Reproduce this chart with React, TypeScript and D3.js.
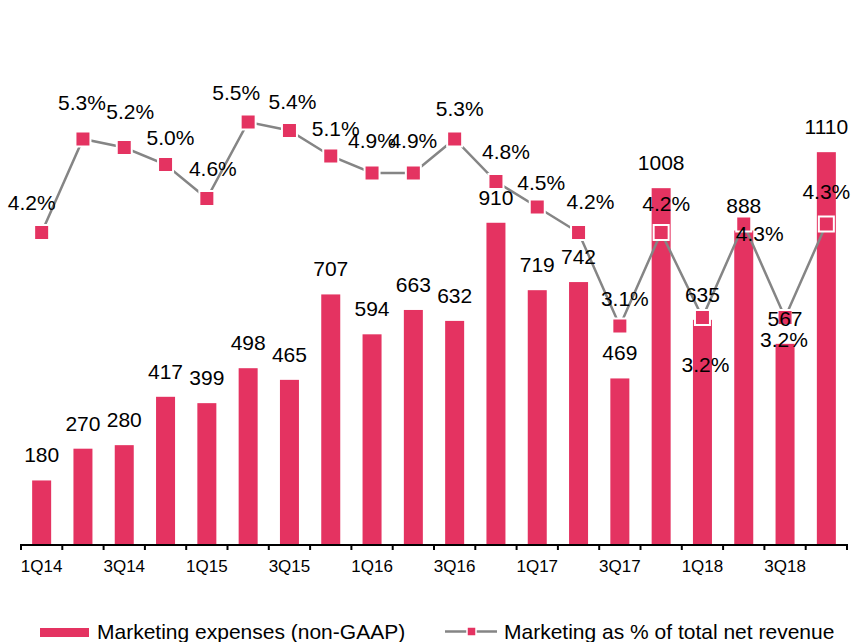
import React from 'react';
import * as d3 from 'd3';

// quarters, every other one gets an axis label
const quarters = [
  '1Q14', '2Q14', '3Q14', '4Q14',
  '1Q15', '2Q15', '3Q15', '4Q15',
  '1Q16', '2Q16', '3Q16', '4Q16',
  '1Q17', '2Q17', '3Q17', '4Q17',
  '1Q18', '2Q18', '3Q18', '4Q18',
];
const tickLabels = ['1Q14', '3Q14', '1Q15', '3Q15', '1Q16', '3Q16', '1Q17', '3Q17', '1Q18', '3Q18'];

// marketing expenses (non-GAAP)
const expenses = [180, 270, 280, 417, 399, 498, 465, 707, 594, 663, 632, 910, 719, 742, 469, 1008, 635, 888, 567, 1110];

// marketing as % of total net revenue
const pctRevenue = [4.2, 5.3, 5.2, 5.0, 4.6, 5.5, 5.4, 5.1, 4.9, 4.9, 5.3, 4.8, 4.5, 4.2, 3.1, 4.2, 3.2, 4.3, 3.2, 4.3];

// label placement for the % labels (dx of centre, dy of baseline from marker)
const pctLabelOffset: [number, number][] = [
  [-10, -23], [-1, -29], [6, -29], [5, -20], [6, -23],
  [-12, -22], [3, -22], [5, -20], [0, -25], [0, -25],
  [5, -23], [10, -23], [4, -17], [12, -24], [5, -20],
  [5, -22], [3, 54], [16, 17], [-1, 29], [0, -25],
];

const legendBar = 'Marketing expenses (non-GAAP)';
const legendLine = 'Marketing as % of total net revenue';

const W = 853;
const H = 642;
const BAR = '#E43361';
const LINE = '#858585';
const FONT = '"Liberation Sans", Arial, sans-serif';

export default function App() {
  const baseY = 544;

  const x = d3.scaleBand<string>().domain(quarters).range([21, 847]).paddingInner(0.54).paddingOuter(0.27);
  const band = d3.scaleBand<string>().domain(quarters).range([21, 847]);
  const y = d3.scaleLinear().domain([0, 1400]).range([baseY, baseY - 1400 * 0.353]);
  const yPct = d3.scaleLinear().domain([0.5, 6.4]).range([547, 45.5]);

  const cx = (q: string) => (band(q) as number) + band.bandwidth() / 2;
  const bw = 19;

  const line = d3
    .line<number>()
    .x((_, i) => cx(quarters[i]))
    .y((d) => yPct(d));

  const ms = 15;

  return (
    <svg
      width={W}
      height={H}
      style={{ position: 'absolute', left: 0, top: 0, background: '#fff' }}
      fontFamily={FONT}
    >
      <rect width={W} height={H} fill="#fff" />

      {/* bars */}
      <g>
        {expenses.map((v, i) => (
          <rect
            key={quarters[i]}
            x={cx(quarters[i]) - bw / 2}
            y={y(v)}
            width={bw}
            height={baseY - y(v)}
            fill={BAR}
          />
        ))}
      </g>

      {/* x axis */}
      <g stroke="#000" strokeWidth={2}>
        <line x1={band.range()[0]} x2={band.range()[1]} y1={baseY + 1} y2={baseY + 1} />
        {quarters.map((q) => (
          <line key={q} x1={band(q)} x2={band(q)} y1={baseY} y2={baseY + 6} />
        ))}
        <line x1={band.range()[1]} x2={band.range()[1]} y1={baseY} y2={baseY + 6} />
      </g>
      <g fontSize={17} fill="#000" textAnchor="middle">
        {tickLabels.map((t) => (
          <text key={t} x={cx(t)} y={baseY + 28}>
            {t}
          </text>
        ))}
      </g>

      {/* percentage line */}
      <path d={line(pctRevenue) || ''} fill="none" stroke={LINE} strokeWidth={2.5} />
      <g>
        {pctRevenue.map((p, i) => (
          <rect
            key={quarters[i]}
            x={cx(quarters[i]) - ms / 2}
            y={yPct(p) - ms / 2}
            width={ms}
            height={ms}
            fill={BAR}
            stroke="#fff"
            strokeWidth={2}
          />
        ))}
      </g>

      {/* bar value labels */}
      <g fontSize={21} fill="#000" textAnchor="middle">
        {expenses.map((v, i) => (
          <text key={quarters[i]} x={cx(quarters[i])} y={y(v) - 18}>
            {v}
          </text>
        ))}
      </g>

      {/* percentage labels */}
      <g fontSize={21} fill="#000" textAnchor="middle">
        {pctRevenue.map((p, i) => (
          <text
            key={quarters[i]}
            x={cx(quarters[i]) + pctLabelOffset[i][0]}
            y={yPct(p) + pctLabelOffset[i][1]}
          >
            {p.toFixed(1)}%
          </text>
        ))}
      </g>

      {/* legend */}
      <g fontSize={21} fill="#000">
        <rect x={40} y={628} width={49} height={9} fill={BAR} />
        <text x={97} y={639}>
          {legendBar}
        </text>
        <line x1={445} x2={497} y1={631.5} y2={631.5} stroke={LINE} strokeWidth={2.5} />
        <rect x={467} y={627} width={9} height={9} fill={BAR} stroke="#fff" strokeWidth={1.5} />
        <text x={504} y={639}>
          {legendLine}
        </text>
      </g>
    </svg>
  );
}
